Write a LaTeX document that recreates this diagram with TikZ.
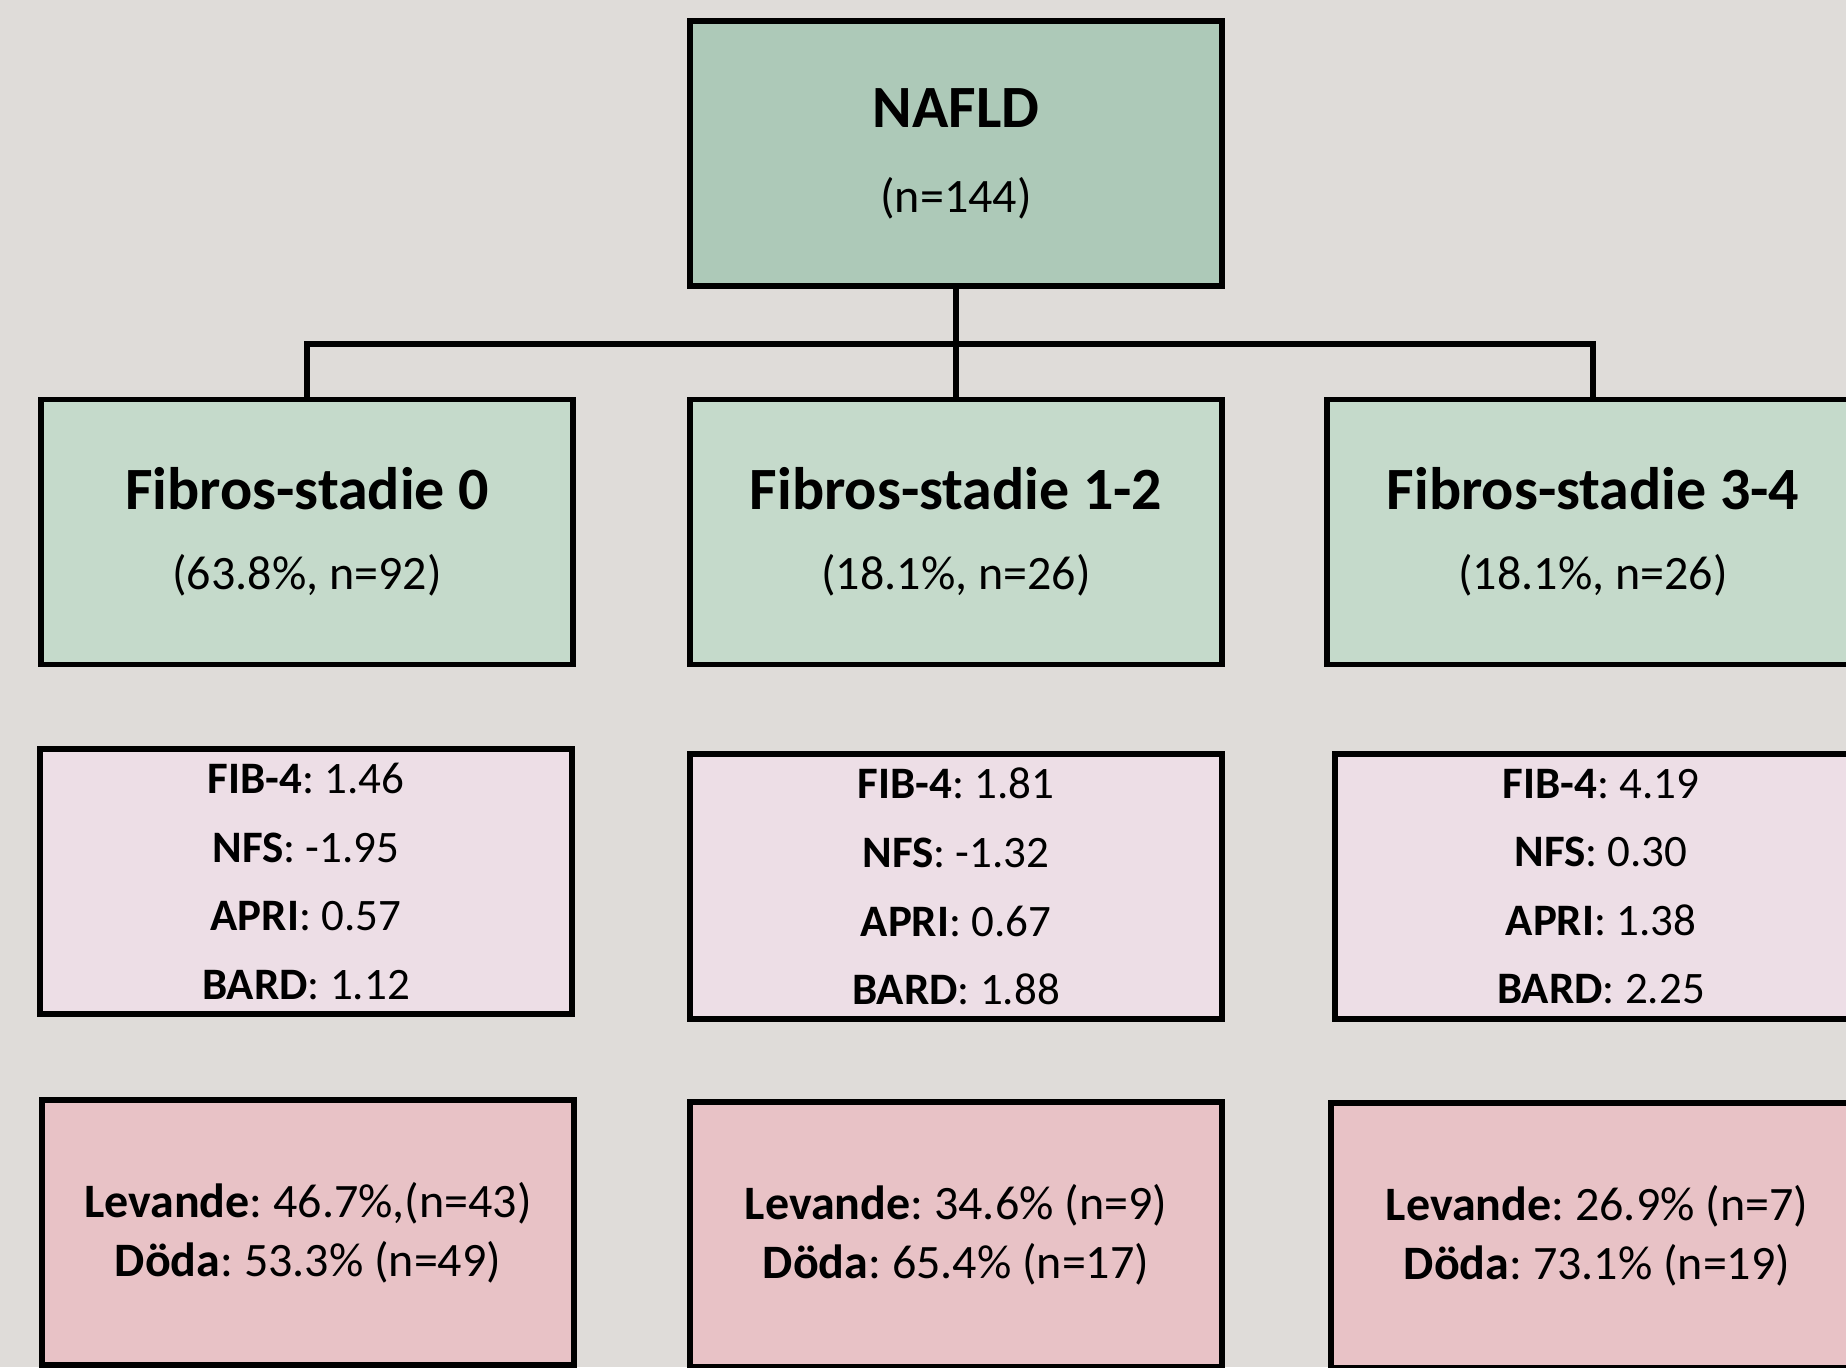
\documentclass[tikz,border=0pt]{standalone}
\usepackage{fontspec}
\setmainfont{Carlito}
\frenchspacing
\usetikzlibrary{positioning}
\definecolor{bggrey}{RGB}{223,220,217}
\definecolor{rootgreen}{RGB}{173,201,184}
\definecolor{stagegreen}{RGB}{197,218,203}
\definecolor{scorepink}{RGB}{237,222,230}
\definecolor{outrose}{RGB}{232,194,198}
\tikzset{
  box/.style={draw=black, line width=2.6pt, minimum width=266pt, minimum height=132.5pt,
    align=center, inner sep=0pt},
  rootbox/.style={box, fill=rootgreen},
  stagebox/.style={box, fill=stagegreen},
  scorebox/.style={box, fill=scorepink, font=\fontsize{22.5}{34.3}\selectfont},
  outbox/.style={box, fill=outrose, font=\fontsize{24}{29.5}\selectfont},
  link/.style={line width=2.6pt}
}
\newcommand{\bigline}[1]{{\fontsize{30}{36}\selectfont\textbf{#1}}}
\newcommand{\subline}[1]{{\fontsize{24}{29}\selectfont #1}}
\begin{document}
\begin{tikzpicture}[x=0.5pt,y=-0.5pt]
  \useasboundingbox (0,0) rectangle (1846,1367);
  \clip (0,0) rectangle (1846,1367);
  \fill[bggrey] (0,0) rectangle (1846,1367);
  % top
  \node[rootbox] (nafld) at (956,153.5) {\bigline{NAFLD}\\[24pt]\subline{(n=144)}};
  % fibrosis stages
  \node[stagebox] (f0) at (307,532) {\bigline{Fibros-stadie 0}\\[21pt]\subline{(63.8\%, n=92)}};
  \node[stagebox] (f12) at (956,532) {\bigline{Fibros-stadie 1-2}\\[21pt]\subline{(18.1\%, n=26)}};
  \node[stagebox] (f34) at (1593,532) {\bigline{Fibros-stadie 3-4}\\[21pt]\subline{(18.1\%, n=26)}};
  % scores
  \node[scorebox] (s0) at (306,881.5) {\textbf{FIB-4}: 1.46\\ \textbf{NFS}: -1.95\\ \textbf{APRI}: 0.57\\ \textbf{BARD}: 1.12};
  \node[scorebox] (s12) at (956,886.5) {\textbf{FIB-4}: 1.81\\ \textbf{NFS}: -1.32\\ \textbf{APRI}: 0.67\\ \textbf{BARD}: 1.88};
  \node[scorebox] (s34) at (1601,886.5) {\textbf{FIB-4}: 4.19\\ \textbf{NFS}: 0.30\\ \textbf{APRI}: 1.38\\ \textbf{BARD}: 2.25};
  % outcome
  \node[outbox] (o0) at (308,1232.5) {\textbf{Levande}: 46.7\%,(n=43)\\ \textbf{Döda}: 53.3\% (n=49)};
  \node[outbox] (o12) at (956,1234.5) {\textbf{Levande}: 34.6\% (n=9)\\ \textbf{Döda}: 65.4\% (n=17)};
  \node[outbox] (o34) at (1597,1235.5) {\textbf{Levande}: 26.9\% (n=7)\\ \textbf{Döda}: 73.1\% (n=19)};
  % connectors
  \coordinate (split) at (956,344);
  \draw[link] (nafld.south) -- (split) -- (f12.north);
  \draw[link] (f0.north) |- (split) -| (f34.north);
\end{tikzpicture}
\end{document}
